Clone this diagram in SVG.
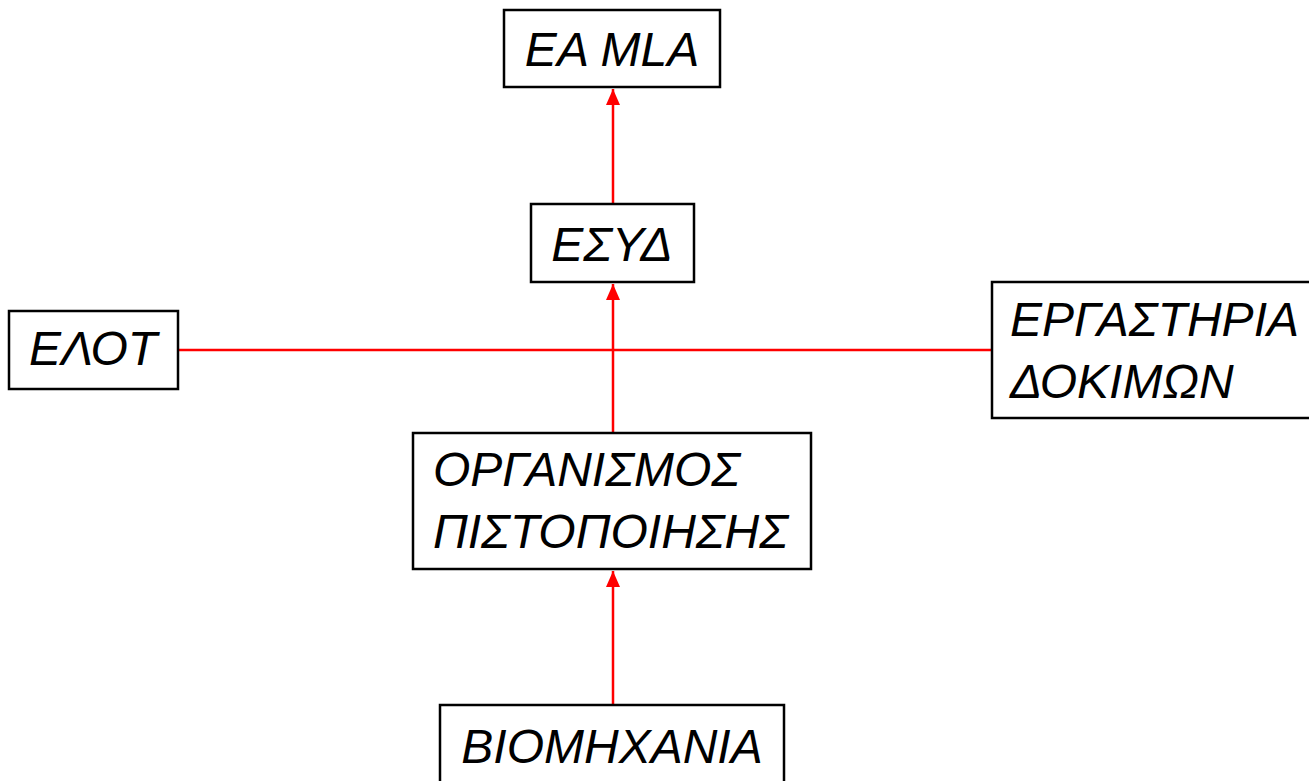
<svg xmlns="http://www.w3.org/2000/svg" width="1309" height="781" viewBox="0 0 1309 781">
<defs>
<marker id="arr" markerUnits="userSpaceOnUse" markerWidth="16" markerHeight="18" refX="16" refY="7" orient="auto">
<path d="M0,0 L16,7 L0,14 Z" fill="#ff0000"/>
</marker>
<style>
.box{fill:#fff;stroke:#000;stroke-width:2.5}
.t{font-family:"Liberation Sans",Arial,sans-serif;font-style:italic;font-size:48px;fill:#000}
.c{text-anchor:middle}
.ln{stroke:#ff0000;stroke-width:2.5;fill:none}
</style>
</defs>
<rect width="1309" height="781" fill="#fff"/>
<g id="connectors">
<line class="ln" x1="178" y1="350" x2="992" y2="350"/>
<line class="ln" x1="613" y1="204" x2="613" y2="89" marker-end="url(#arr)"/>
<line class="ln" x1="613" y1="433" x2="613" y2="284" marker-end="url(#arr)"/>
<line class="ln" x1="613" y1="705" x2="613" y2="571" marker-end="url(#arr)"/>
</g>
<g id="eamla">
<rect class="box" x="504" y="10" width="216" height="77"/>
<text class="t c" x="612" y="66">EA MLA</text>
</g>
<g id="esyd">
<rect class="box" x="531" y="204" width="163" height="78"/>
<text class="t c" x="612" y="261">ΕΣΥΔ</text>
</g>
<g id="elot">
<rect class="box" x="9" y="311" width="169" height="78"/>
<text class="t c" x="93" y="365">ΕΛΟΤ</text>
</g>
<g id="ergasthria">
<rect class="box" x="992" y="282" width="330" height="136"/>
<text class="t" x="1010" y="336">ΕΡΓΑΣΤΗΡΙΑ</text>
<text class="t" x="1010" y="398">ΔΟΚΙΜΩΝ</text>
</g>
<g id="organismos">
<rect class="box" x="413" y="433" width="398" height="136"/>
<text class="t" x="433" y="486">ΟΡΓΑΝΙΣΜΟΣ</text>
<text class="t" x="433" y="548">ΠΙΣΤΟΠΟΙΗΣΗΣ</text>
</g>
<g id="biomhxania">
<rect class="box" x="440" y="705" width="344" height="90"/>
<text class="t c" x="612" y="763">ΒΙΟΜΗΧΑΝΙΑ</text>
</g>
</svg>
